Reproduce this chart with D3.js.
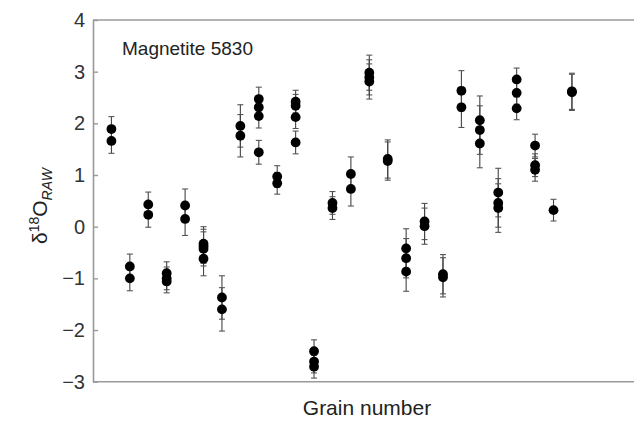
<!DOCTYPE html>
<html>
<head>
<meta charset="utf-8">
<script src="https://cdn.jsdelivr.net/npm/d3@7"></script>
<style>
  body { margin: 0; background: #fff; }
  svg { display: block; }
</style>
</head>
<body>
<div id="chart"></div>
<script>
// δ18O raw values per grain (several spots per grain)
const grainValues = [
    [1.89, 1.66],
    [-0.77, -1.0],
    [0.43, 0.23],
    [-0.9, -1.0, -1.06],
    [0.41, 0.15],
    [-0.33, -0.38, -0.43, -0.62],
    [-1.37, -1.6],
    [1.95, 1.76],
    [2.47, 2.31, 2.14, 1.44],
    [0.97, 0.84],
    [2.42, 2.34, 2.12, 1.63],
    [-2.41, -2.61, -2.71],
    [0.46, 0.36],
    [1.02, 0.73],
    [2.98, 2.89, 2.81],
    [1.31, 1.27],
    [-0.42, -0.61, -0.87],
    [0.1, 0.01],
    [-0.92, -0.98],
    [2.63, 2.31],
    [2.06, 1.87, 1.61],
    [0.66, 0.46, 0.36],
    [2.85, 2.59, 2.29],
    [1.57, 1.19, 1.1],
    [0.32],
    [2.62, 2.6]
];

// analytical uncertainty for each grain
const grainErrors = [
    0.24, 0.24, 0.24, 0.22, 0.32, 0.33, 0.42, 0.41, 0.23, 0.21, 0.22, 0.22, 0.22,
    0.33, 0.34, 0.37, 0.38, 0.35, 0.38, 0.39, 0.47, 0.47, 0.22, 0.22, 0.21, 0.35
];

const yTicks = [-3, -2, -1, 0, 1, 2, 3, 4];

const width = 634;
const height = 421;
const margin = { top: 20, right: 0, bottom: 39.3, left: 93 };

const svg = d3.select('#chart')
    .append('svg')
    .attr('width', width)
    .attr('height', height);

// x: grain index, y: delta value
const x = d3.scaleLinear()
    .domain([0, 29.37])
    .range([margin.left, width - margin.right]);

const y = d3.scaleLinear()
    .domain([-3, 4])
    .range([height - margin.bottom, margin.top]);

// flatten into spots
const spots = grainValues.flatMap((vals, i) =>
    vals.map(v => ({ grain: i + 1, value: v, err: grainErrors[i] })));

const axisColor = '#9a9a9a';

// top frame line
svg.append('line')
    .attr('x1', x.range()[0]).attr('x2', x.range()[1])
    .attr('y1', y(4)).attr('y2', y(4))
    .attr('stroke', axisColor).attr('stroke-width', 1.6);

// bottom axis line (no ticks)
svg.append('line')
    .attr('x1', x.range()[0]).attr('x2', x.range()[1])
    .attr('y1', y(-3)).attr('y2', y(-3))
    .attr('stroke', axisColor).attr('stroke-width', 1.6);

// y axis, ticks pointing inwards
const yAxis = svg.append('g')
    .attr('transform', `translate(${margin.left},0)`)
    .call(d3.axisLeft(y)
        .tickValues(yTicks)
        .tickSizeInner(-5)
        .tickSizeOuter(0)
        .tickPadding(8)
        .tickFormat(d3.format('d')));

yAxis.select('.domain')
    .attr('stroke', axisColor)
    .attr('stroke-width', 1.6);
yAxis.selectAll('.tick line')
    .attr('stroke', axisColor)
    .attr('stroke-width', 1.4);
yAxis.selectAll('.tick text')
    .attr('fill', '#333')
    .attr('font-family', 'Liberation Sans, Arial, sans-serif')
    .attr('font-size', '20px');

// error bars
const capW = 3;
const bars = svg.append('g').attr('class', 'errbars')
    .selectAll('g')
    .data(spots)
    .enter()
    .append('g');

bars.append('line')
    .attr('x1', d => x(d.grain)).attr('x2', d => x(d.grain))
    .attr('y1', d => y(d.value + d.err)).attr('y2', d => y(d.value - d.err))
    .attr('stroke', '#444').attr('stroke-width', 1.1);

bars.append('line')
    .attr('x1', d => x(d.grain) - capW).attr('x2', d => x(d.grain) + capW)
    .attr('y1', d => y(d.value + d.err)).attr('y2', d => y(d.value + d.err))
    .attr('stroke', '#555').attr('stroke-width', 1.1);

bars.append('line')
    .attr('x1', d => x(d.grain) - capW).attr('x2', d => x(d.grain) + capW)
    .attr('y1', d => y(d.value - d.err)).attr('y2', d => y(d.value - d.err))
    .attr('stroke', '#555').attr('stroke-width', 1.1);

// points
svg.append('g').attr('class', 'points')
    .selectAll('circle')
    .data(spots)
    .enter()
    .append('circle')
    .attr('cx', d => x(d.grain))
    .attr('cy', d => y(d.value))
    .attr('r', 4.9)
    .attr('fill', '#000');

// sample label
svg.append('text')
    .attr('x', 122)
    .attr('y', 55)
    .attr('fill', '#222')
    .attr('font-family', 'Liberation Sans, Arial, sans-serif')
    .attr('font-size', '19px')
    .text('Magnetite 5830');

// x axis title
svg.append('text')
    .attr('x', 367)
    .attr('y', 415)
    .attr('text-anchor', 'middle')
    .attr('fill', '#222')
    .attr('font-family', 'Liberation Sans, Arial, sans-serif')
    .attr('font-size', '21px')
    .text('Grain number');

// y axis title: δ18O with RAW subscript
const yTitle = svg.append('text')
    .attr('transform', 'translate(47,206) rotate(-90)')
    .attr('text-anchor', 'middle')
    .attr('fill', '#222')
    .attr('font-family', 'Liberation Sans, Arial, sans-serif')
    .attr('font-size', '21px');

yTitle.append('tspan').text('δ');
yTitle.append('tspan')
    .attr('font-size', '14px')
    .attr('dy', -8)
    .text('18');
yTitle.append('tspan')
    .attr('dy', 8)
    .text('O');
yTitle.append('tspan')
    .attr('font-size', '14px')
    .attr('font-style', 'italic')
    .attr('dy', 5)
    .text('RAW');
</script>
</body>
</html>
